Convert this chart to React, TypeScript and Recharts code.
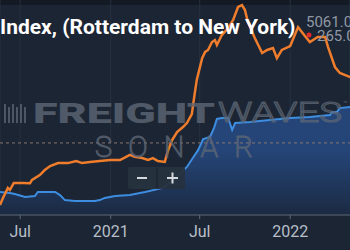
import { ComposedChart, Line, Area, XAxis, YAxis, CartesianGrid, ReferenceLine } from 'recharts';

const DAY = 86400000;
const toT = (s: string) => Date.parse(s + 'T00:00:00Z');

// orange: Rotterdam -> New York index
const orangeDates = [
  '2020-05-21', '2020-05-27', '2020-06-06', '2020-06-10', '2020-06-18', '2020-07-05', '2020-07-21', '2020-07-25',
  '2020-08-10', '2020-08-20', '2020-08-31', '2020-09-16', '2020-10-06', '2020-10-23', '2020-11-04', '2020-11-20',
  '2020-12-10', '2020-12-31', '2021-01-20', '2021-02-09', '2021-02-19', '2021-03-06', '2021-03-18', '2021-03-28',
  '2021-04-07', '2021-04-21', '2021-04-28', '2021-05-06', '2021-05-16', '2021-05-28', '2021-06-05', '2021-06-15',
  '2021-06-19', '2021-06-25', '2021-07-06', '2021-07-12', '2021-07-18', '2021-07-26', '2021-08-01', '2021-08-05',
  '2021-08-15', '2021-08-28', '2021-09-07', '2021-09-17', '2021-09-25', '2021-10-01', '2021-10-07', '2021-10-21',
  '2021-11-05', '2021-11-15', '2021-11-27', '2021-12-05', '2021-12-15', '2022-01-01', '2022-01-17', '2022-01-31',
  '2022-02-10', '2022-02-26', '2022-03-13', '2022-03-19', '2022-04-02', '2022-04-12', '2022-05-03',
];
const orangeValues = [
  1760, 1940, 2200, 2145, 2325, 2325, 2320, 2405,
  2530, 2660, 2765, 2840, 2840, 2895, 2840, 2870,
  2895, 2920, 2920, 3050, 3000, 2970, 2920, 2970,
  2895, 2870, 3180, 3435, 3640, 3770, 3875, 4105,
  4470, 4985, 5550, 5710, 5760, 5965, 6015, 5890,
  6145, 6325, 6535, 6870, 6920, 6790, 6480, 6070,
  5680, 5760, 5810, 5550, 5760, 5860, 6350, 6120,
  5965, 6095, 6095, 5835, 5320, 5165, 5061,
];

// blue: comparison index
const blueDates = [
  '2020-05-21', '2020-06-10', '2020-06-20', '2020-07-11', '2020-07-31', '2020-08-06', '2020-08-20', '2020-09-10',
  '2020-09-20', '2020-09-30', '2020-10-20', '2020-11-30', '2020-12-10', '2020-12-20', '2021-01-10', '2021-02-09',
  '2021-03-12', '2021-04-17', '2021-05-12', '2021-06-05', '2021-06-17', '2021-06-28', '2021-07-08', '2021-07-22',
  '2021-07-30', '2021-08-05', '2021-08-15', '2021-08-28', '2021-09-05', '2021-09-11', '2021-10-11', '2021-11-21',
  '2022-01-01', '2022-02-10', '2022-03-23', '2022-03-27', '2022-04-06', '2022-04-12', '2022-05-03',
];
const blueValues = [
  2095, 2070, 2040, 1965, 1990, 2095, 2095, 2095,
  2015, 1885, 1860, 1860, 1885, 1940, 1990, 2015,
  2095, 2200, 2455, 2740, 2970, 3180, 3460, 3515,
  3745, 3980, 4005, 4005, 3695, 3875, 3900, 3950,
  4005, 4030, 4080, 4160, 4160, 4260, 4290,
];

const tickDates = ['2020-07-01', '2021-01-01', '2021-07-01', '2022-01-01'];
const refValue = 3360;

const orangeData = orangeDates.map((d, i) => ({ t: toT(d), v: orangeValues[i] }));
const blueData = blueDates.map((d, i) => ({ t: toT(d), v: blueValues[i] }));
const xStart = toT('2020-05-21');
const xEnd = xStart + 711.6 * DAY;

const fmtTick = (t: number) => {
  const d = new Date(t);
  return d.getUTCMonth() === 0 ? String(d.getUTCFullYear()) : 'Jul';
};

const wm = '#5d6775';

export default function App() {
  return (
    <div style={{ position: 'fixed', left: 0, top: 0, width: 350, height: 250, background: '#1c2533', overflow: 'hidden', fontFamily: 'Roboto, sans-serif' }}>
      <div style={{ position: 'absolute', left: 0, top: 0, width: 350, height: 5, background: '#141a23' }} />
      <ComposedChart width={350} height={250} margin={{ top: 0, right: 0, left: 0, bottom: 0 }} style={{ position: 'absolute', left: 0, top: 0 }}>
        <defs>
          <linearGradient id="blueFill" x1="0" y1="0" x2="0" y2="1">
            <stop offset="40%" stopColor="#254578" />
            <stop offset="100%" stopColor="#1b2a42" />
          </linearGradient>
        </defs>
        <CartesianGrid horizontal={false} stroke="#263040" />
        <XAxis
          dataKey="t"
          type="number"
          domain={[xStart, xEnd]}
          allowDataOverflow
          ticks={tickDates.map(toT)}
          tickFormatter={fmtTick}
          height={35}
          stroke="#5f6977"
          tickSize={4}
          tickMargin={7}
          tick={{ fill: '#b8bfc8', fontSize: 16, fontFamily: 'Roboto' }}
        />
        <YAxis hide domain={[1500, 7050]} allowDataOverflow />
        <ReferenceLine y={refValue} stroke="#8a7470" strokeDasharray="3 3" strokeWidth={1} />
        <Area data={blueData} dataKey="v" type="linear" stroke="#3d8de0" strokeWidth={2} fill="url(#blueFill)" fillOpacity={1} isAnimationActive={false} dot={false} activeDot={false} />
        <Line data={orangeData} dataKey="v" type="linear" stroke="#ef7d2c" strokeWidth={2.5} dot={false} activeDot={false} isAnimationActive={false} />
      </ComposedChart>
      <svg width={350} height={250} style={{ position: 'absolute', left: 0, top: 0, pointerEvents: 'none' }}>
        {/* watermark */}
        <g fill={wm} opacity={0.75}>
          {[4, 8, 12, 16, 20, 24].map((x, i) => (
            <rect key={x} x={x} y={104 + (i % 2) * 3} width={2} height={19 - (i % 2) * 3} />
          ))}
        </g>
        <text x={33} y={123} fontSize={28} fontWeight={900} fill={wm} opacity={0.8} textLength={182} lengthAdjust="spacingAndGlyphs" fontFamily="Roboto">FREIGHT</text>
        <text x={218} y={122} fontSize={28} fontWeight={300} fill="none" stroke={wm} strokeWidth={1.2} opacity={0.8} textLength={124} lengthAdjust="spacingAndGlyphs" fontFamily="Roboto">WAVES</text>
        <text x={343} y={106} fontSize={7} fill={wm} fontFamily="Roboto">™</text>
        <text x={95} y={157} fontSize={29} fontWeight={200} fill="none" stroke={wm} strokeWidth={1.1} opacity={0.8} textLength={158} lengthAdjust="spacing" fontFamily="Roboto">SONAR</text>
        {/* zoom buttons */}
        <rect x={128} y={167} width={57} height={22} rx={2} fill="#27313f" opacity={0.95} />
        <line x1={157} y1={168} x2={157} y2={188} stroke="#1c2533" strokeWidth={1.5} />
        <rect x={137} y={177} width={10} height={2} fill="#d5d9de" />
        <rect x={167} y={177} width={11} height={2} fill="#d5d9de" />
        <rect x={171.5} y={172.5} width={2} height={11} fill="#d5d9de" />
        {/* title & legend values */}
        <text x={0} y={34} fontSize={21} fontWeight={700} fill="#ffffff" fontFamily="Roboto">Index, (Rotterdam to New York)</text>
        <text x={306} y={27} fontSize={15} fill="#8f99a5" fontFamily="Roboto">5061.0</text>
        <circle cx={309} cy={35} r={2.5} fill="#e02a2a" />
        <text x={317} y={41} fontSize={15} fill="#8f99a5" fontFamily="Roboto">265.0</text>
      </svg>
    </div>
  );
}
